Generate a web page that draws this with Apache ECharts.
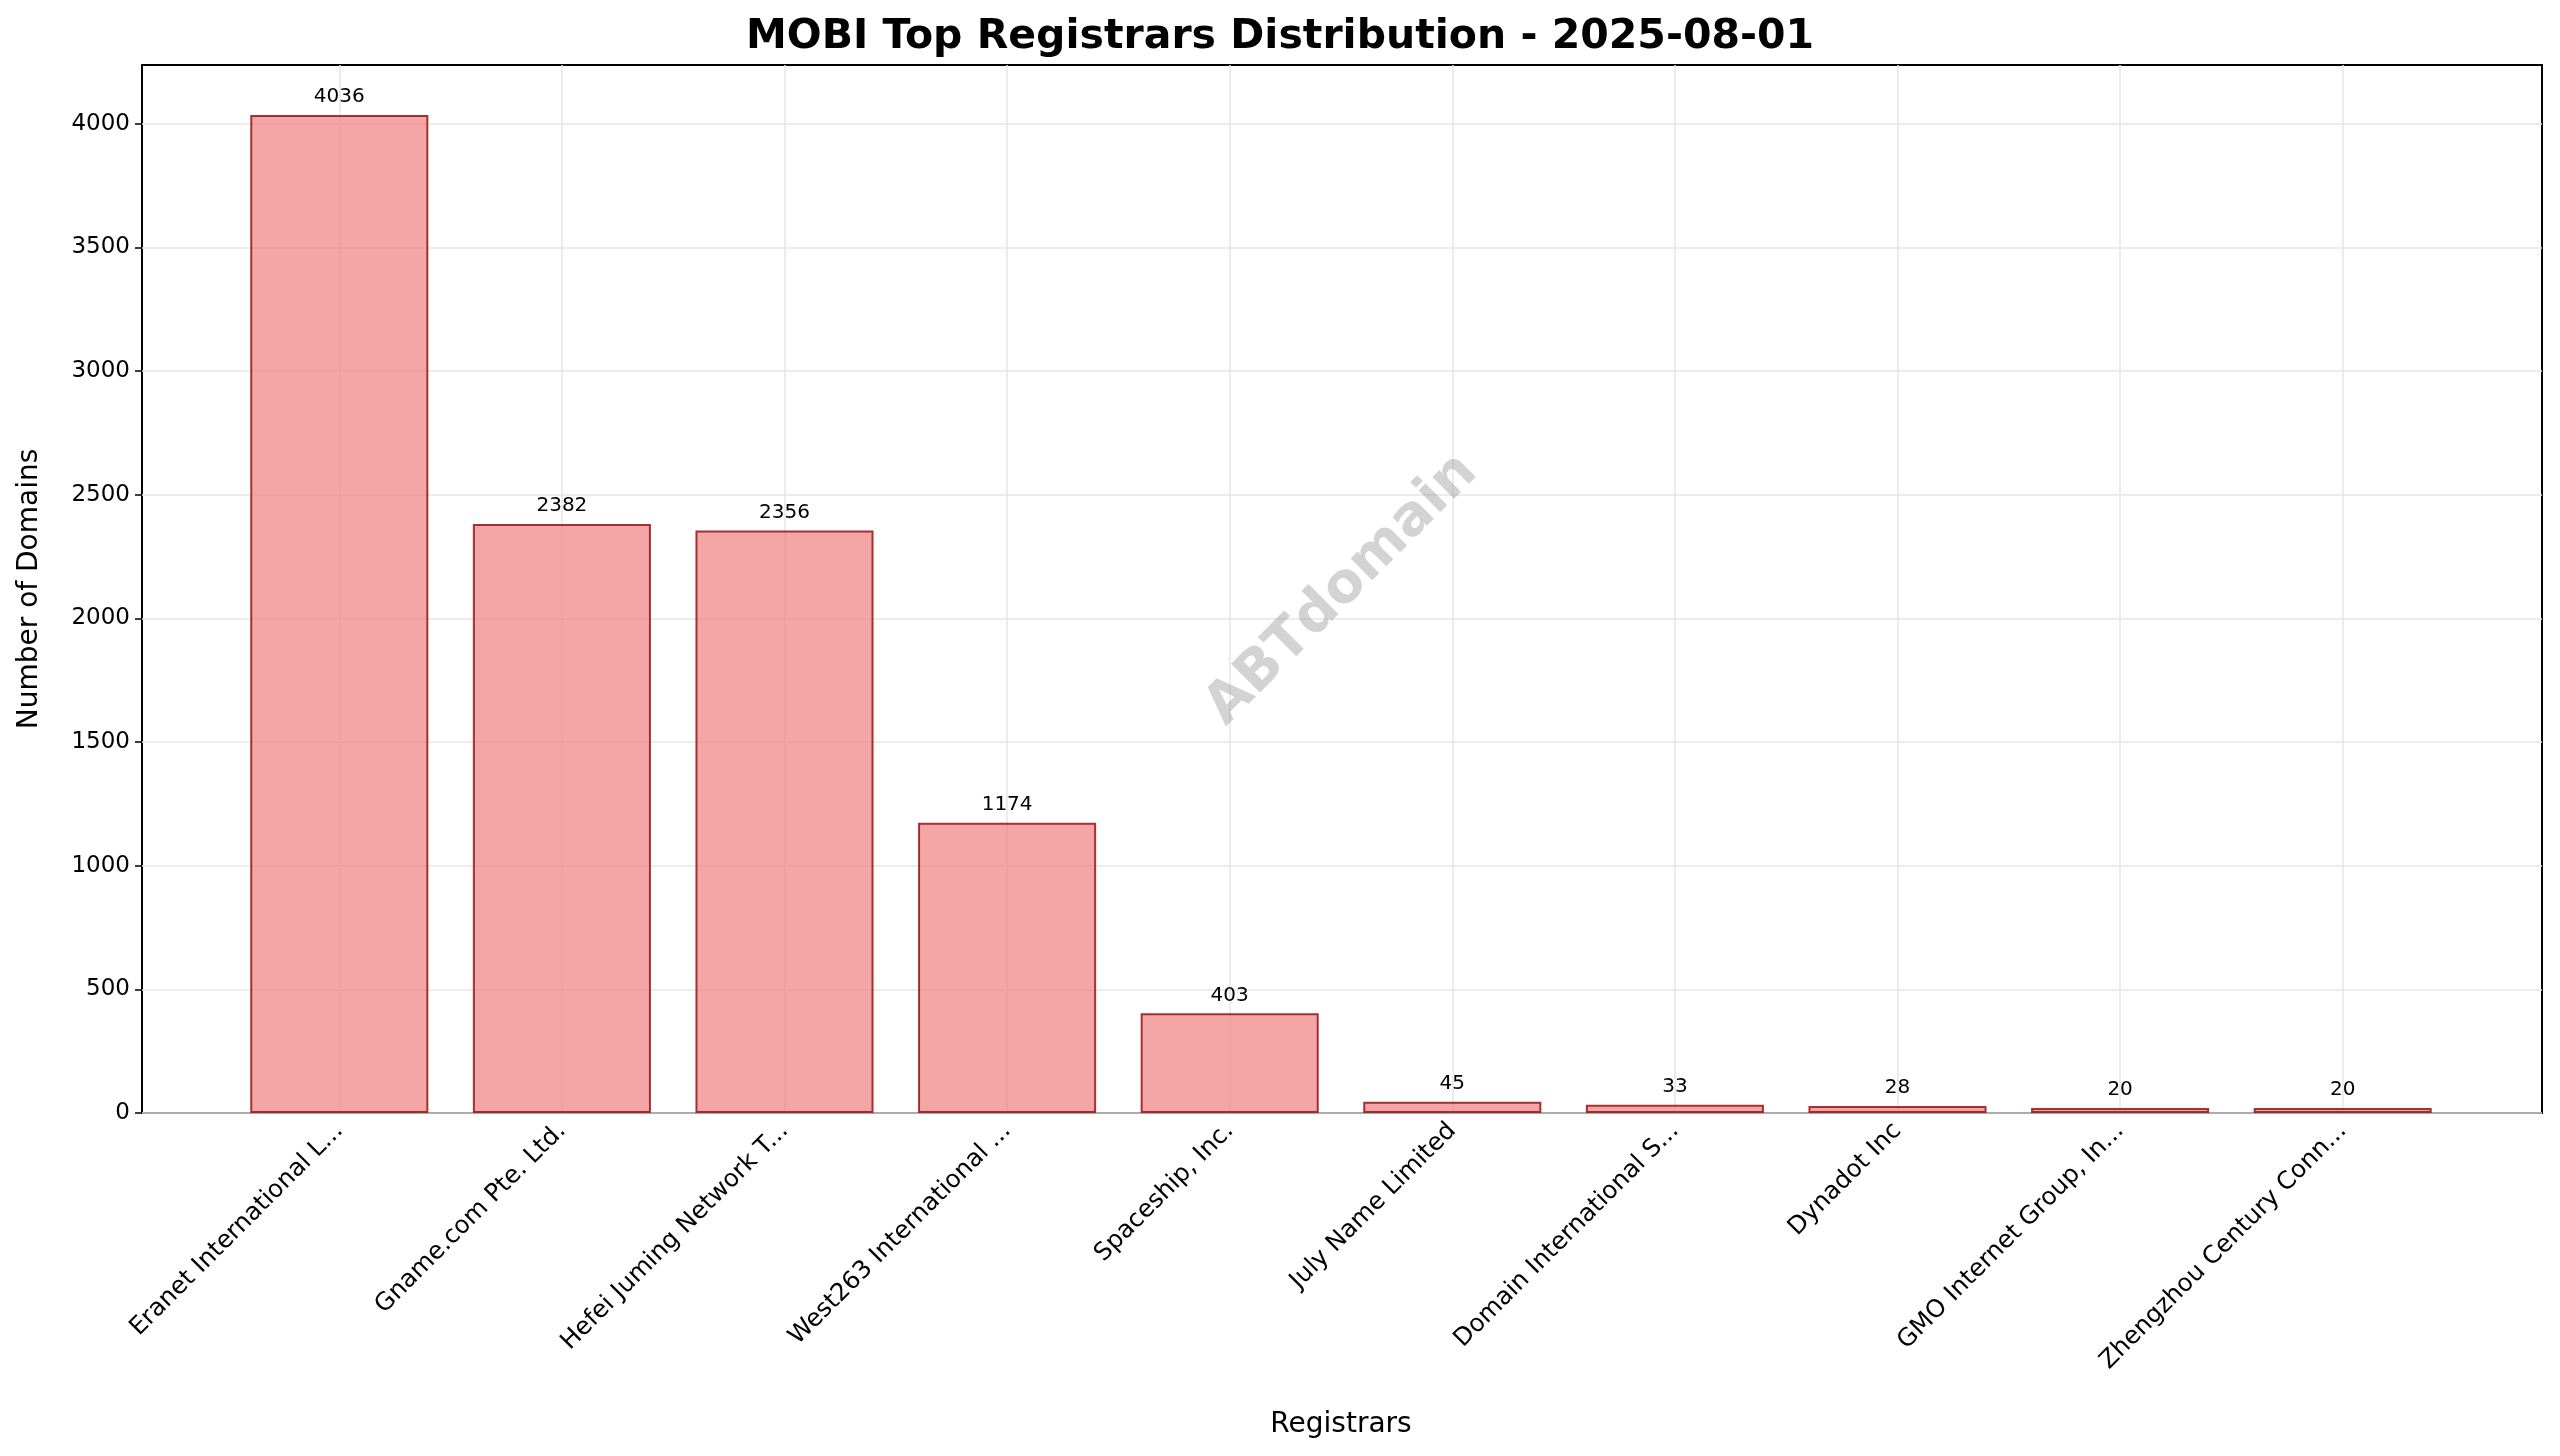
<!DOCTYPE html>
<html><head><meta charset="utf-8">
<script src="https://cdn.jsdelivr.net/npm/echarts@6/dist/echarts.min.js"></script>
<style>html,body{margin:0;background:#fff}#c{width:2560px;height:1456px}</style>
</head><body><div id="c"></div>
<script>
const registrars = ['Eranet International L...', 'Gname.com Pte. Ltd.', 'Hefei Juming Network T...',
  'West263 International ...', 'Spaceship, Inc.', 'July Name Limited', 'Domain International S...',
  'Dynadot Inc', 'GMO Internet Group, In...', 'Zhengzhou Century Conn...'];
const domains = [4036, 2382, 2356, 1174, 403, 45, 33, 28, 20, 20];
const yMax = 4238;

const font = 'DejaVu Sans';
const chart = echarts.init(document.getElementById('c'));
chart.setOption({
  animation: false,
  textStyle: { fontFamily: font },
  title: {
    text: 'MOBI Top Registrars Distribution - 2025-08-01', left: 'center', top: 12,
    textStyle: { fontFamily: font, fontSize: 41, fontWeight: 'bold', color: '#000' }
  },
  grid: [
    // frame
    { left: 142, right: 18, top: 65, bottom: 343, show: true, borderColor: '#000', borderWidth: 2 },
    // bars
    { left: 228, right: 106, top: 65, bottom: 343 }
  ],
  xAxis: [
    { gridIndex: 0, type: 'value', min: 0, max: 1, show: false },
    {
      gridIndex: 1, type: 'category', data: registrars,
      axisLine: { show: false },
      axisTick: { alignWithLabel: true, length: 7, lineStyle: { color: '#000', width: 1.5 } },
      axisLabel: { rotate: 45, fontSize: 24.5, color: '#000', margin: 14, interval: 0 },
      splitLine: { show: true, alignWithLabel: true, lineStyle: { color: '#e6e6e6', width: 1.5 } },
      name: 'Registrars', nameLocation: 'middle', nameGap: 298,
      nameTextStyle: { fontSize: 28, color: '#000' }
    }
  ],
  yAxis: [
    {
      gridIndex: 0, type: 'value', min: 0, max: yMax, interval: 500,
      axisLine: { show: false },
      axisTick: { show: true, length: 7, lineStyle: { color: '#000', width: 1.5 } },
      axisLabel: { fontSize: 23, color: '#000', margin: 12, showMaxLabel: false, formatter: v => String(v) },
      splitLine: { show: true, showMaxLine: false, lineStyle: { color: '#e6e6e6', width: 1.5 } },
      name: 'Number of Domains', nameLocation: 'middle', nameGap: 98,
      nameTextStyle: { fontSize: 28, color: '#000' }
    },
    { gridIndex: 1, type: 'value', min: 0, max: yMax, show: false }
  ],
  series: [{
    type: 'bar', xAxisIndex: 1, yAxisIndex: 1, data: domains, barWidth: '80%',
    itemStyle: { color: 'rgba(240,128,128,0.7)', borderColor: 'rgba(150,20,20,0.85)', borderWidth: 2 },
    label: { show: true, position: 'top', distance: 8, fontSize: 20, color: '#000' },
    z: 3
  }],
  graphic: [{
    type: 'text', x: 1342, y: 590, rotation: Math.PI / 4, z: 10,
    style: { text: 'ABTdomain', fontFamily: font, fontSize: 56, fontWeight: 'bold',
      fill: 'rgba(128,128,128,0.35)', align: 'center', verticalAlign: 'middle' }
  }]
});
</script></body></html>
